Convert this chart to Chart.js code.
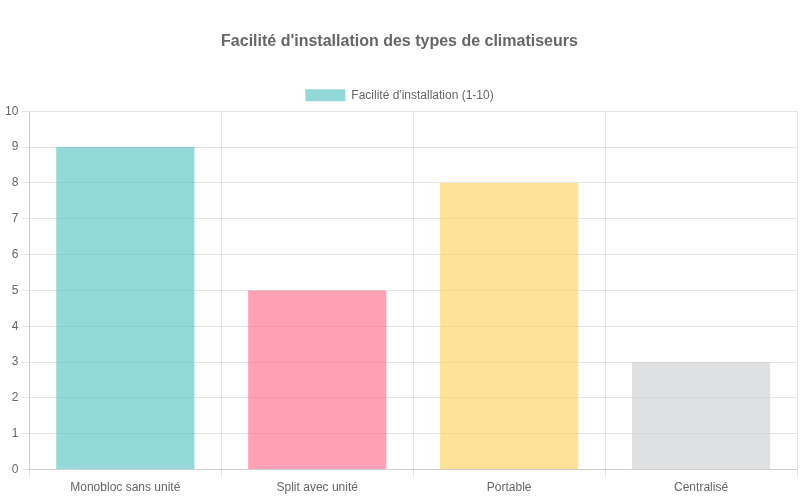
<!DOCTYPE html>
<html><head><meta charset="utf-8">
<script src="https://cdn.jsdelivr.net/npm/chart.js@4/dist/chart.umd.min.js"></script>
<style>html,body{margin:0;padding:0;background:#fff}#w{width:800px;height:500px}</style>
</head><body><div id="w"><canvas id="c"></canvas></div>
<script>
const categories = ["Monobloc sans unité", "Split avec unité", "Portable", "Centralisé"];
const values = [9, 5, 8, 3];
const seriesLabel = "Facilité d'installation (1-10)";
const colors = ["rgba(75,192,192,0.6)", "rgba(255,99,132,0.6)", "rgba(255,206,86,0.6)", "rgba(201,203,207,0.6)"];
new Chart(document.getElementById('c'), {
  type: 'bar',
  data: { labels: categories, datasets: [{ label: seriesLabel, data: values, backgroundColor: colors, borderWidth: 0 }] },
  options: {
    responsive: true, maintainAspectRatio: false, animation: false,
    layout: { padding: { left: 2, right: 3, top: 2, bottom: 2 } },
    plugins: {
      title: { display: true, text: "Facilité d'installation des types de climatiseurs", color: '#666', font: { size: 16, weight: 'bold' }, padding: { top: 30, bottom: 28 } },
      legend: { display: true }
    },
    scales: {
      y: { beginAtZero: true, max: 10, ticks: { stepSize: 1 } }
    }
  }
});
</script></body></html>
